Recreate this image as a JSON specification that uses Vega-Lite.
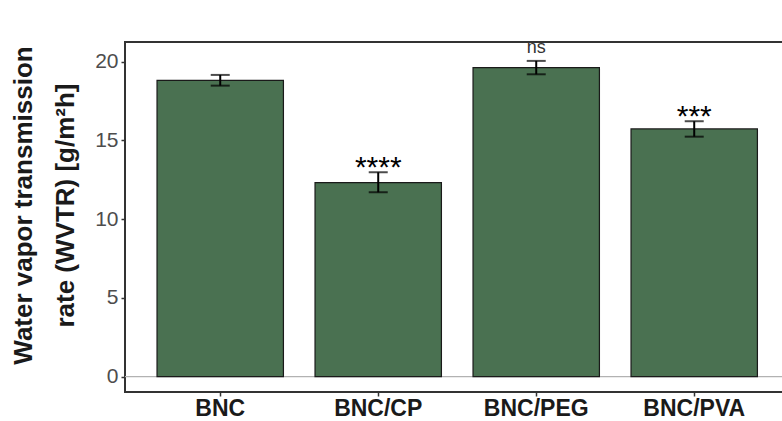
{
  "$schema": "https://vega.github.io/schema/vega-lite/v6.json",
  "width": 658,
  "height": 350,
  "autosize": {"type": "none"},
  "padding": {"left": 125, "top": 42, "right": 0, "bottom": 29},
  "background": "white",
  "config": {
    "view": {"stroke": "#333333", "strokeWidth": 2},
    "font": "Liberation Sans"
  },
  "data": {
    "values": [
      {"group": "BNC", "wvtr": 18.80, "lo": 18.47, "hi": 19.15, "label": ""},
      {"group": "BNC/CP", "wvtr": 12.31, "lo": 11.70, "hi": 12.97, "label": "****"},
      {"group": "BNC/PEG", "wvtr": 19.61, "lo": 19.19, "hi": 20.04, "label": "ns"},
      {"group": "BNC/PVA", "wvtr": 15.72, "lo": 15.23, "hi": 16.21, "label": "***"}
    ]
  },
  "encoding": {
    "x": {
      "field": "group",
      "type": "nominal",
      "sort": null,
      "scale": {"paddingInner": 0.2, "paddingOuter": 0.1823, "align": 0.556},
      "axis": {
        "title": null,
        "labelAngle": 0,
        "labelFont": "Liberation Sans",
        "labelFontWeight": "bold",
        "labelFontSize": 23,
        "labelColor": "#1a1a1a",
        "labelPadding": 1,
        "tickSize": 4,
        "tickColor": "#333333",
        "tickWidth": 1.5,
        "domain": false,
        "grid": false
      }
    }
  },
  "layer": [
    {
      "mark": {"type": "rule", "color": "#b3b3b3", "strokeWidth": 1},
      "encoding": {"x": null, "y": {"datum": 0, "type": "quantitative"}}
    },
    {
      "mark": {"type": "bar", "color": "#4a7151", "stroke": "#1a1a1a", "strokeWidth": 1.2},
      "encoding": {
        "y": {
          "field": "wvtr",
          "type": "quantitative",
          "scale": {"domain": [-0.98, 21.24], "nice": false, "zero": false},
          "axis": {
            "title": ["Water vapor transmission", "rate (WVTR) [g/m²h]"],
            "titleFont": "Liberation Sans",
            "titleFontWeight": "bold",
            "titleFontSize": 26,
            "titleColor": "#1a1a1a",
            "titleLineHeight": 42,
            "titlePadding": 16,
            "titleY": 163,
            "values": [0, 5, 10, 15, 20],
            "labelFont": "Liberation Sans",
            "labelFontSize": 21,
            "labelColor": "#4d4d4d",
            "labelPadding": 3,
            "tickSize": 4,
            "tickColor": "#333333",
            "tickWidth": 1.5,
            "domain": false,
            "grid": false
          }
        }
      }
    },
    {
      "mark": {"type": "rule", "color": "black", "strokeWidth": 2},
      "encoding": {
        "y": {"field": "lo", "type": "quantitative"},
        "y2": {"field": "hi"}
      }
    },
    {
      "mark": {"type": "tick", "color": "black", "size": 19, "thickness": 2},
      "encoding": {"y": {"field": "lo", "type": "quantitative"}}
    },
    {
      "mark": {"type": "tick", "color": "black", "size": 19, "thickness": 2},
      "encoding": {"y": {"field": "hi", "type": "quantitative"}}
    },
    {
      "transform": [{"filter": "datum.label != 'ns' && datum.label != ''"}],
      "mark": {"type": "text", "font": "Liberation Sans", "fontSize": 30, "color": "black", "baseline": "alphabetic", "dy": 5},
      "encoding": {
        "y": {"field": "hi", "type": "quantitative"},
        "text": {"field": "label"}
      }
    },
    {
      "transform": [{"filter": "datum.label == 'ns'"}],
      "mark": {"type": "text", "font": "Liberation Sans", "fontSize": 18, "color": "#333333", "baseline": "alphabetic", "dy": -8},
      "encoding": {
        "y": {"field": "hi", "type": "quantitative"},
        "text": {"field": "label"}
      }
    }
  ]
}
